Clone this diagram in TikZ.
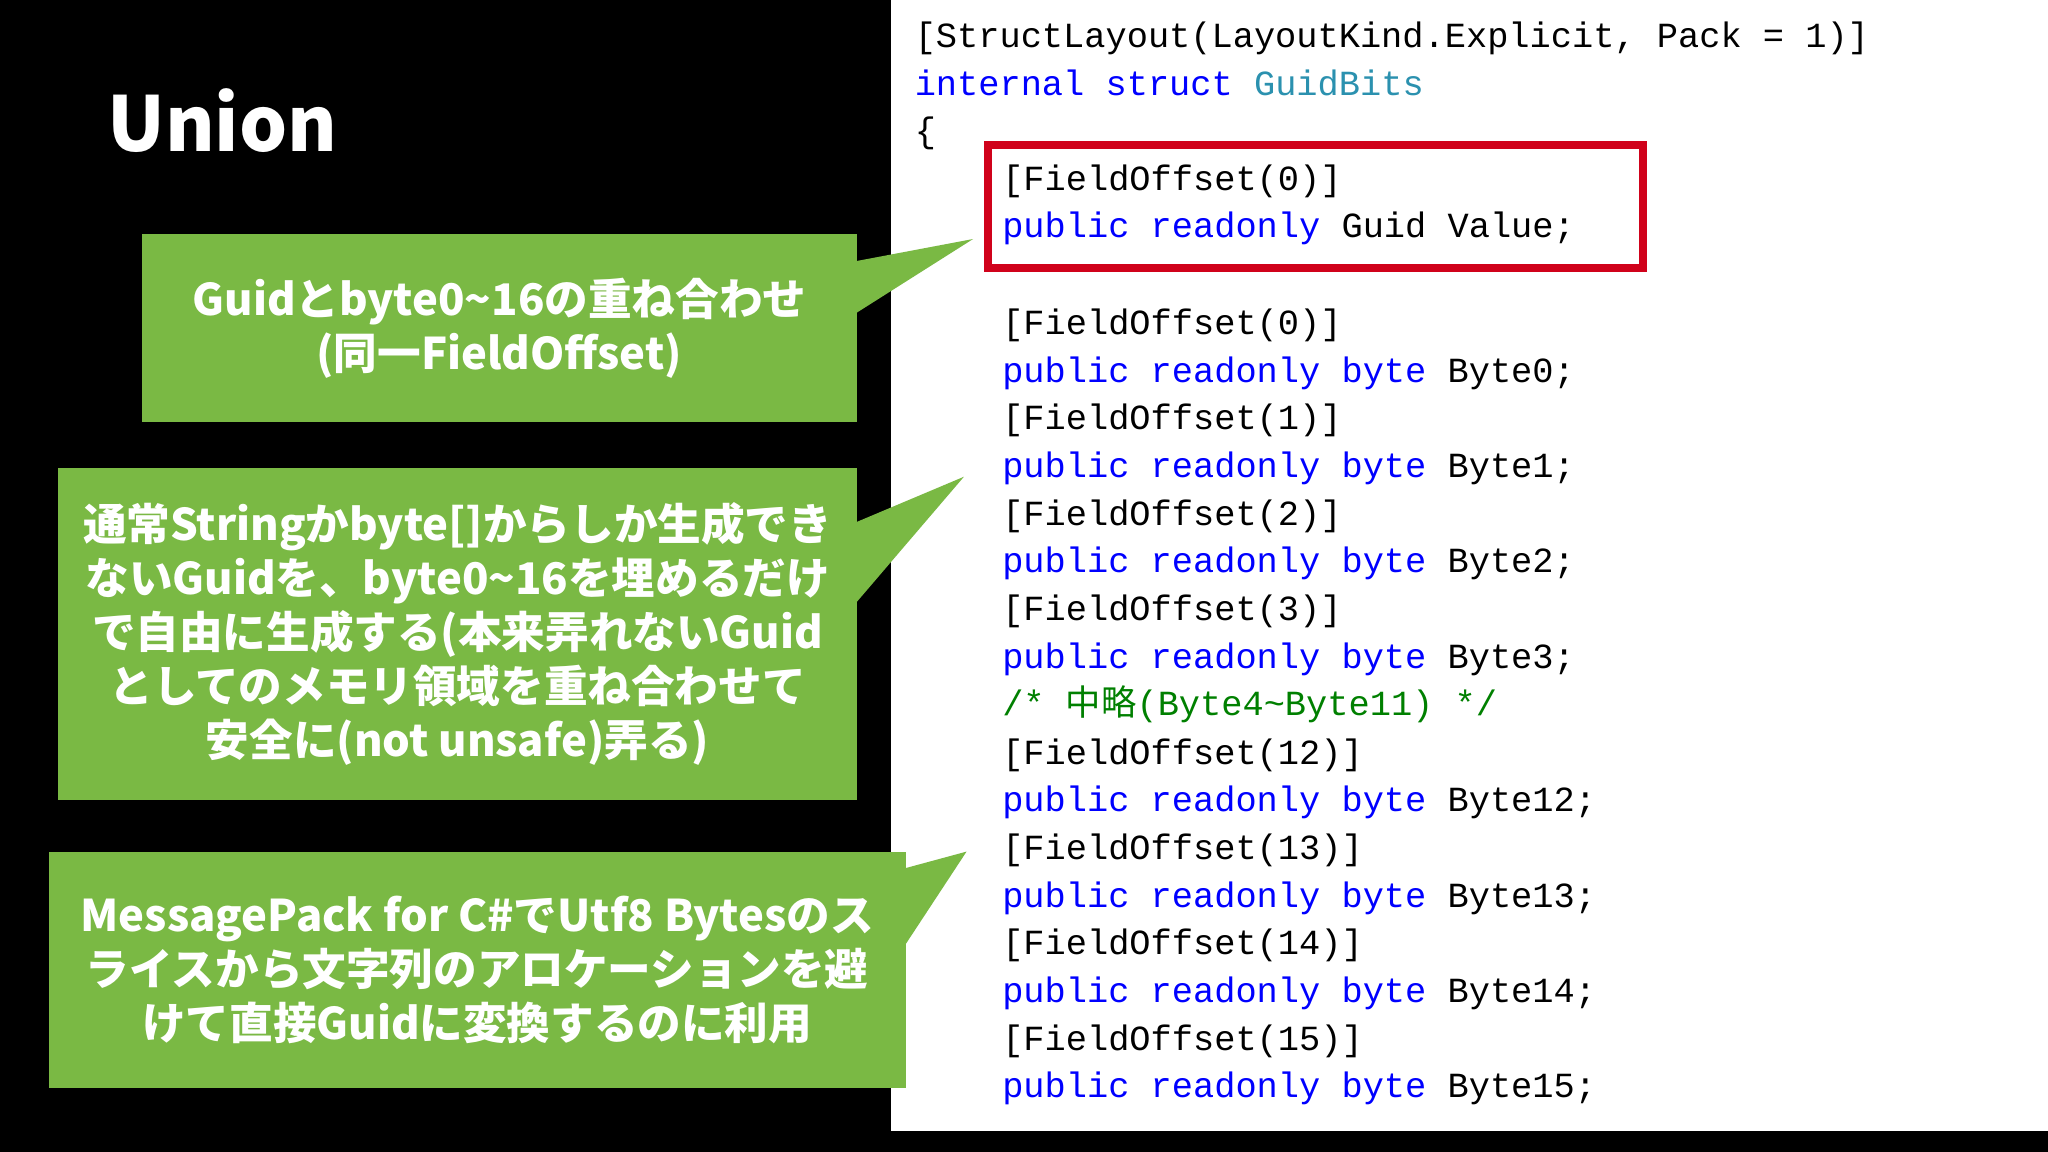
\documentclass[tikz,border=0pt]{standalone}
\usepackage{fontspec}
\setmainfont{Noto Sans CJK JP}
\newfontfamily\jp{Noto Sans CJK JP}
\newfontfamily\codefont{Liberation Mono}
\newfontfamily\cjkcode{Noto Sans CJK JP}
\definecolor{gbox}{HTML}{7AB944}
\definecolor{kw}{HTML}{0000FF}
\definecolor{ty}{HTML}{2B91AF}
\definecolor{cm}{HTML}{008000}
\definecolor{rd}{HTML}{D0021B}
\tikzset{
 code/.style={anchor=base west,inner sep=0,font=\codefont\fontsize{15.4}{18}\selectfont},
 gb/.style={fill=gbox,draw=none},
 gtext/.style={text=white,align=center,font=\jp\bfseries\fontsize{19}{23.5}\selectfont}
}
\newcommand{\kk}[1]{\textcolor{kw}{#1}}
\begin{document}
\begin{tikzpicture}[x=0.02cm,y=-0.02cm]
\fill[black] (0,0) rectangle (1568,882);
\useasboundingbox (0,0) rectangle (1568,882);
\fill[white] (682,0) rectangle (1568,866);
\node[anchor=west,text=white,font=\jp\bfseries\fontsize{33}{36}\selectfont] (title) at (76,92) {Union};
% green boxes
\node[gb,minimum width=548*0.02cm,minimum height=144*0.02cm,anchor=north west] (b1) at (108,179) {};
\fill[gbox] (655,200) -- (745,183) -- (655,240) -- cycle;
\node[gtext] (t1) at (b1.center) {Guidとbyte0\string~16の重ね合わせ\\(同一FieldOffset)};
\node[gb,minimum width=612*0.02cm,minimum height=254*0.02cm,anchor=north west] (b2) at (44,358) {};
\fill[gbox] (655,400) -- (738,365) -- (655,462) -- cycle;
\node[gtext] (t2) at (b2.center) {通常Stringかbyte[]からしか生成でき\\ないGuidを、byte0\string~16を埋めるだけ\\で自由に生成する(本来弄れないGuid\\としてのメモリ領域を重ね合わせて\\安全に(not unsafe)弄る)};
\node[gb,minimum width=656*0.02cm,minimum height=181*0.02cm,anchor=north west] (b3) at (37,652) {};
\fill[gbox] (692,665) -- (740,652) -- (692,725) -- cycle;
\node[gtext] (t3) at (b3.center) {MessagePack for C\#でUtf8 Bytesのス\\ライスから文字列のアロケーションを避\\けて直接Guidに変換するのに利用};
% red box
\node[draw=rd,line width=3.5pt,minimum width=502*0.02cm,minimum height=94*0.02cm,anchor=north west] (red) at (753,108) {};
% code
\node[code] (c1) at (700,36) {[StructLayout(LayoutKind.Explicit, Pack = 1)]};
\node[code] (c2) at (700,73) {\kk{internal} \kk{struct} \textcolor{ty}{GuidBits}};
\node[code] (c3) at (700,109) {\{};
\node[code] (c4) at (767,146) {[FieldOffset(0)]};
\node[code] (c5) at (767,182) {\kk{public} \kk{readonly} Guid Value;};
\foreach \n/\y in {0/256,1/329,2/402,3/475}{
 \node[code] (fo\n) at (767,\y) {[FieldOffset(\n)]};
 \node[code] (pb\n) at (767,\y+36.6) {\kk{public} \kk{readonly} \kk{byte} Byte\n;};
}
\node[code,text=cm] (cmt) at (767,548) {/* {\cjkcode 中略}(Byte4\string~Byte11) */};
\foreach \n/\y in {12/585,13/658,14/731,15/804}{
 \node[code] (fo\n) at (767,\y) {[FieldOffset(\n)]};
 \node[code] (pb\n) at (767,\y+36.6) {\kk{public} \kk{readonly} \kk{byte} Byte\n;};
}
\end{tikzpicture}
\end{document}
